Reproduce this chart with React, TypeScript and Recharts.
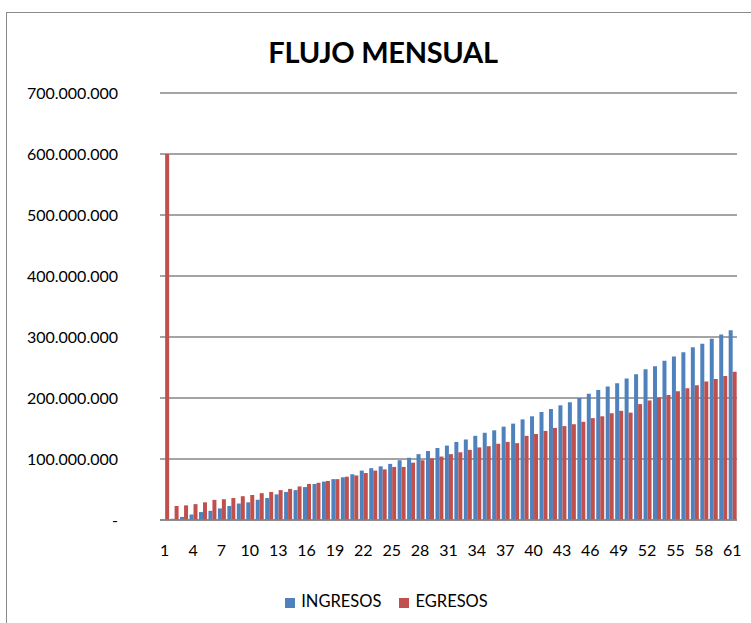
import React from 'react';
import { BarChart, Bar, XAxis, YAxis, CartesianGrid, Legend } from 'recharts';

// millones de pesos por mes
const meses = Array.from({ length: 61 }, (_, i) => String(i + 1));

const ingresos = [
  0, 2, 5, 9, 13, 15, 19, 23, 27, 29, 33, 36, 42, 46, 49, 54, 59, 63, 67, 70,
  75, 81, 85, 88, 92, 98, 102, 108, 113, 118, 122, 128, 132, 138, 143, 147, 153, 158, 165, 170,
  177, 182, 188, 193, 200, 207, 213, 219, 224, 232, 239, 247, 252, 261, 268, 275, 283, 289, 297, 304,
  311,
];

const egresos = [
  600, 23, 24, 26, 29, 33, 34, 36, 39, 41, 44, 46, 49, 51, 55, 59, 61, 64, 67, 71,
  73, 77, 81, 83, 87, 87, 94, 98, 101, 104, 108, 111, 115, 119, 121, 125, 128, 126, 138, 141,
  146, 151, 154, 157, 161, 167, 170, 175, 179, 176, 190, 196, 201, 205, 211, 216, 221, 227, 231, 236,
  243,
];

const series = ['INGRESOS', 'EGRESOS'];

const yTicks = [0, 100e6, 200e6, 300e6, 400e6, 500e6, 600e6, 700e6];

const data = meses.map((m, i) => ({
  mes: m,
  INGRESOS: ingresos[i] * 1e6,
  EGRESOS: egresos[i] * 1e6,
}));

const fmt = (v: number) =>
  v === 0 ? '-' : String(Math.round(v)).replace(/\B(?=(\d{3})+(?!\d))/g, '.');

const font = 'Lato, "Open Sans", sans-serif';

export default function App() {
  return (
    <div
      style={{
        position: 'absolute',
        left: 0,
        top: 0,
        width: 751,
        height: 623,
        overflow: 'hidden',
        background: '#fff',
        fontFamily: font,
      }}
    >
      <div
        style={{
          position: 'absolute',
          left: 6,
          top: 12,
          width: 800,
          height: 700,
          border: '1px solid #8a8a8a',
        }}
      />
      <div
        style={{
          position: 'absolute',
          left: 0,
          width: 766,
          top: 33,
          textAlign: 'center',
          fontSize: 29,
          fontWeight: 'bold',
          color: '#000',
          lineHeight: '38px',
          letterSpacing: -0.3,
        }}
      >
        FLUJO MENSUAL
      </div>
      <div style={{ position: 'absolute', left: 0, top: 0 }}>
        <BarChart
          width={751}
          height={623}
          data={data}
          margin={{ top: 93, right: 14, left: 0, bottom: 63 }}
          barCategoryGap="12%"
          barGap={0}
        >
          <CartesianGrid vertical={false} stroke="#868686" strokeWidth={1.3} />
          <XAxis
            dataKey="mes"
            interval={2}
            height={40}
            tickLine={false}
            axisLine={{ stroke: '#868686', strokeWidth: 1.3 }}
            tickMargin={19}
            tick={{ fill: '#000', fontSize: 16, fontFamily: font }}
          />
          <YAxis
            width={160}
            domain={[0, 700e6]}
            ticks={yTicks}
            tickFormatter={fmt}
            axisLine={false}
            tickLine={false}
            tickMargin={36}
            tick={{ fill: '#000', fontSize: 16, fontFamily: font }}
          />
          <Legend
            verticalAlign="middle"
            align="center"
            iconType="square"
            iconSize={10}
            itemSorter={(item: any) => series.indexOf(item.value)}
            wrapperStyle={{ top: 591, left: 20, width: 751, fontSize: 16.5, fontFamily: font }}
            formatter={(v: string) => (
              <span style={{ color: '#000', marginLeft: 2, marginRight: 8 }}>{v}</span>
            )}
          />
          <Bar dataKey="INGRESOS" fill="#4F81BD" isAnimationActive={false} />
          <Bar dataKey="EGRESOS" fill="#C0504D" isAnimationActive={false} />
        </BarChart>
      </div>
    </div>
  );
}
